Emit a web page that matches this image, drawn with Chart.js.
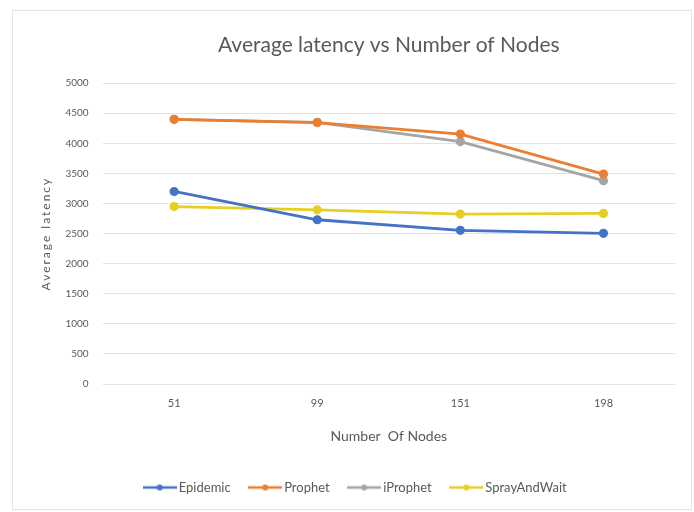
<!DOCTYPE html>
<html>
<head>
<meta charset="utf-8">
<script src="https://cdn.jsdelivr.net/npm/chart.js@4.4.1/dist/chart.umd.min.js"></script>
<style>
  html, body { margin: 0; padding: 0; background: #ffffff; }
  #frame {
    position: absolute; left: 12px; top: 10px; width: 680px; height: 500px;
    border: 1px solid #e3e3e3; box-sizing: border-box;
  }
  #wrap { position: absolute; left: 0; top: 0; width: 694px; height: 512px; }
</style>
</head>
<body>
<div id="frame"></div>
<div id="wrap"><canvas id="chart" width="694" height="512"></canvas></div>
<script>
// Number of nodes in each simulation run
const nodeCounts = ['51', '99', '151', '198'];

// Average latency per routing protocol
const epidemic = [3200, 2730, 2555, 2505];
const prophet = [4400, 4345, 4155, 3490];
const iProphet = [4400, 4350, 4030, 3380];
const sprayAndWait = [2950, 2895, 2825, 2835];

// Y axis range and step
const yTicks = { min: 0, max: 5000, step: 500 };

const seriesNames = ['Epidemic', 'Prophet', 'iProphet', 'SprayAndWait'];
const seriesColors = ['#4472C4', '#ED7D31', '#A5A5A5', '#E6CF24'];
const seriesValues = [epidemic, prophet, iProphet, sprayAndWait];

const fontFamily = 'Lato, "Open Sans", sans-serif';
const textColor = '#595959';

// Legend swatch: a short line with a marker dot in the middle
function legendSwatch(color) {
  const c = document.createElement('canvas');
  c.width = 34; c.height = 8;
  const g = c.getContext('2d');
  g.strokeStyle = color;
  g.lineWidth = 2.5;
  g.beginPath(); g.moveTo(0, 4); g.lineTo(34, 4); g.stroke();
  g.fillStyle = color;
  g.beginPath(); g.arc(17, 4, 3, 0, Math.PI * 2); g.fill();
  return c;
}

// Draw the vertical axis title with wider letter spacing
const spacedYTitle = {
  id: 'spacedYTitle',
  afterUpdate(chart) {
    const scale = chart.scales.y;
    if (!scale || scale._spacedTitle) return;
    const original = scale.drawTitle.bind(scale);
    scale.drawTitle = function () {
      const ctx = this.ctx;
      ctx.save();
      ctx.letterSpacing = '2px';
      original();
      ctx.restore();
    };
    scale._spacedTitle = true;
  }
};

new Chart(document.getElementById('chart'), {
  type: 'line',
  data: {
    labels: nodeCounts,
    datasets: seriesNames.map((name, i) => ({
      label: name,
      data: seriesValues[i],
      borderColor: seriesColors[i],
      backgroundColor: seriesColors[i],
      borderWidth: 2.8,
      pointRadius: 3.2,
      pointHoverRadius: 3.2,
      tension: 0,
      fill: false
    }))
  },
  plugins: [spacedYTitle],
  options: {
    responsive: false,
    animation: false,
    layout: { padding: { top: 33, left: 39, right: 19, bottom: 8 } },
    plugins: {
      title: {
        display: true,
        fullSize: false,
        text: 'Average latency vs Number of Nodes',
        color: textColor,
        font: { family: fontFamily, size: 21, weight: 'normal' },
        padding: { top: 0, bottom: 25 }
      },
      legend: {
        position: 'bottom',
        labels: {
          color: textColor,
          font: { family: fontFamily, size: 13 },
          usePointStyle: true,
          pointStyleWidth: 25,
          padding: 22,
          generateLabels(chart) {
            return chart.data.datasets.map((ds, i) => ({
              text: ds.label,
              fontColor: textColor,
              pointStyle: legendSwatch(seriesColors[i]),
              strokeStyle: seriesColors[i],
              fillStyle: seriesColors[i],
              lineWidth: 0,
              hidden: false,
              datasetIndex: i
            }));
          }
        }
      },
      tooltip: { enabled: false }
    },
    scales: {
      x: {
        offset: true,
        grid: { display: false, drawTicks: false },
        border: { display: false },
        ticks: { color: textColor, font: { family: fontFamily, size: 11 }, padding: 13 },
        title: {
          display: true,
          text: 'Number  Of Nodes',
          color: textColor,
          font: { family: fontFamily, size: 14 },
          padding: { top: 5, bottom: 14 }
        }
      },
      y: {
        min: yTicks.min,
        max: yTicks.max,
        grid: { color: '#e2e2e2', drawTicks: false },
        border: { display: false },
        ticks: {
          stepSize: yTicks.step,
          color: textColor,
          font: { family: fontFamily, size: 10 },
          padding: 14,
          callback: (v) => String(v)
        },
        title: {
          display: true,
          text: 'Average latency',
          color: textColor,
          font: { family: fontFamily, size: 12 },
          padding: { top: 0, bottom: -2 }
        }
      }
    }
  }
});
</script>
</body>
</html>
